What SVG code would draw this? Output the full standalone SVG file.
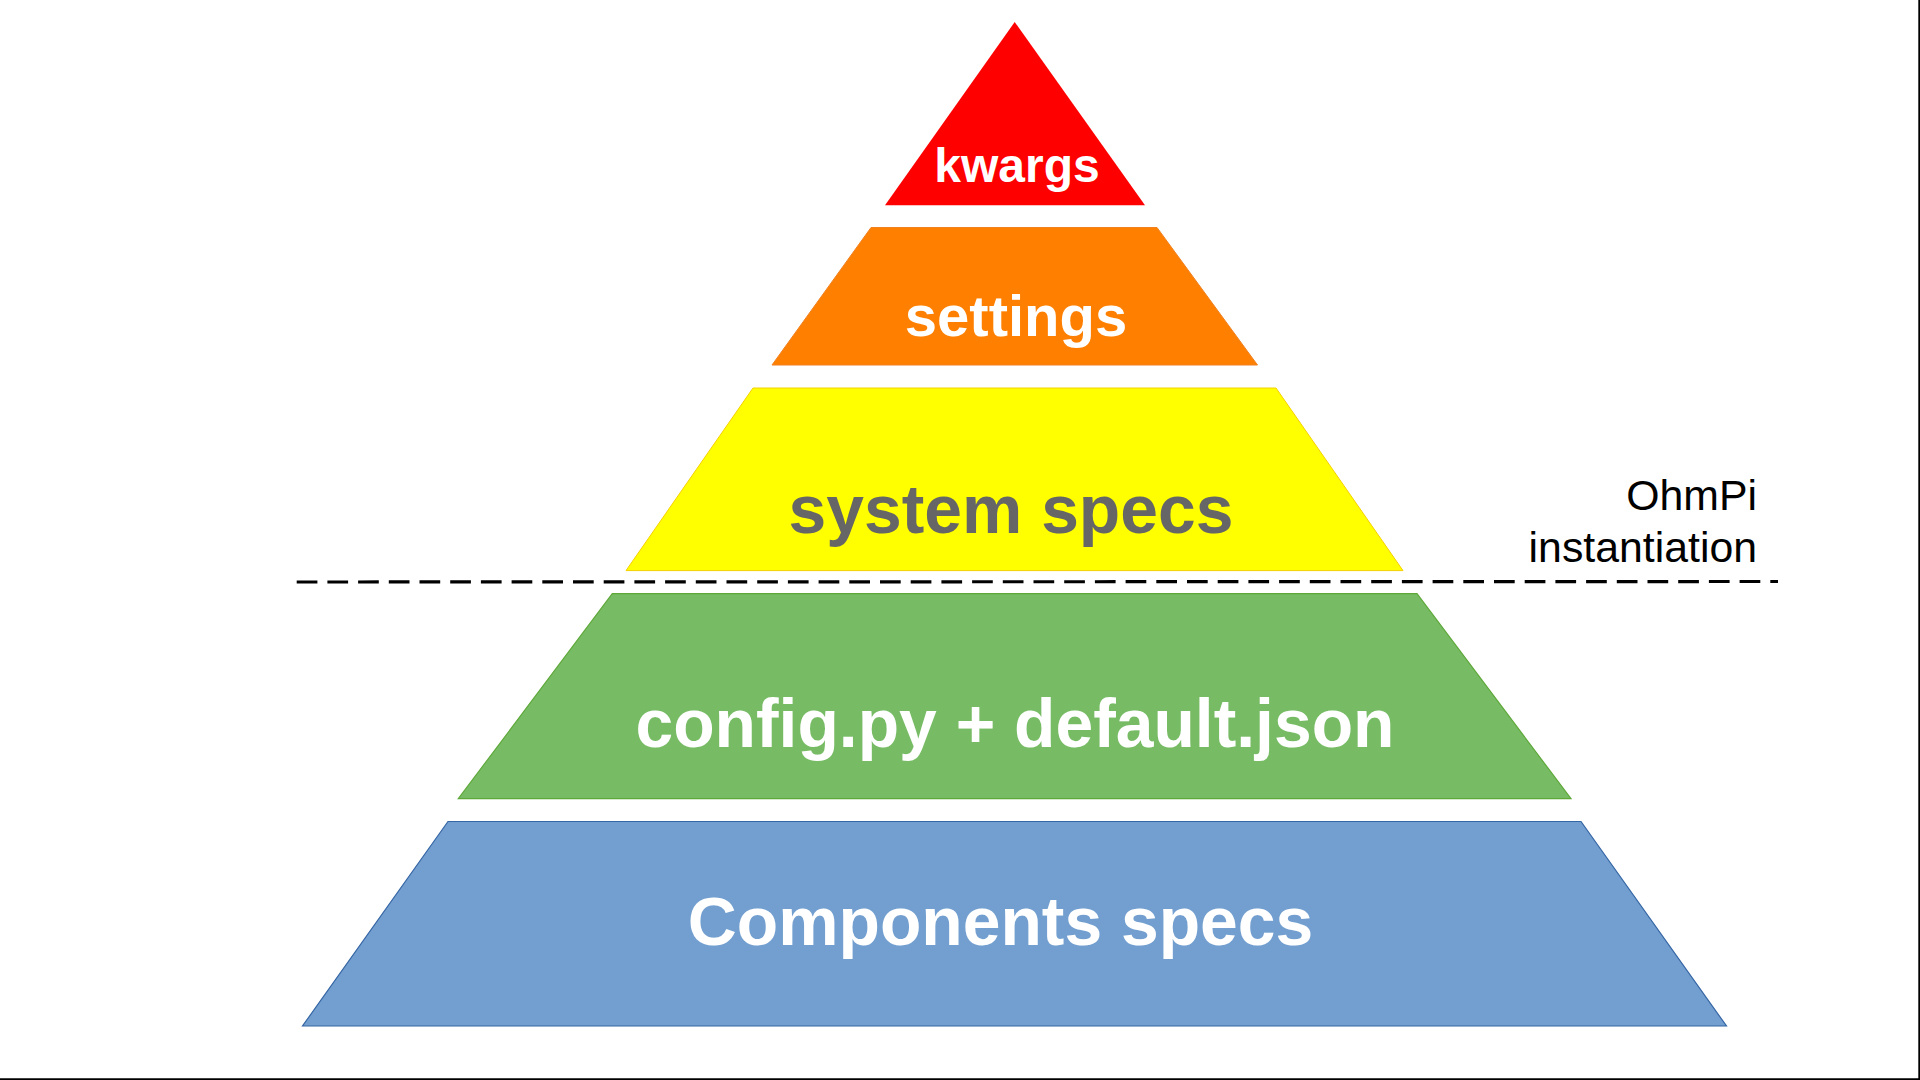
<svg xmlns="http://www.w3.org/2000/svg" width="1920" height="1080" viewBox="0 0 1920 1080">
<style>
.lbl{font-family:"Liberation Sans",Arial,sans-serif;font-weight:bold;text-anchor:middle}
.side{font-family:"Liberation Sans",Arial,sans-serif;font-size:42.8px;text-anchor:end;fill:#000}
</style>
<rect width="1920" height="1080" fill="#fff"/>
<g id="kwargs">
<polygon points="1014.7,22 1145,205.3 885,205.3" fill="#ff0000"/>
<text class="lbl" x="1017" y="181.5" font-size="48" fill="#fff">kwargs</text>
</g>
<g id="settings">
<polygon points="871,227.5 1157,227.5 1257.5,365 772,365" fill="#ff8000" stroke="#f08020" stroke-width="1"/>
<text class="lbl" x="1016" y="336" font-size="58" fill="#fff">settings</text>
</g>
<g id="system-specs">
<polygon points="753,388 1276,388 1403,570.6 626,570.6" fill="#ffff00" stroke="#f5d000" stroke-width="1"/>
<text class="lbl" x="1011" y="532.5" font-size="67.8" fill="#666666">system specs</text>
</g>
<g id="config">
<polygon points="612.3,593.7 1417,593.7 1571,798.7 458.3,798.7" fill="#77bc65" stroke="#5ea83a" stroke-width="1.2"/>
<text class="lbl" x="1015" y="746.5" font-size="67.8" fill="#fff">config.py + default.json</text>
</g>
<g id="components">
<polygon points="448,821.5 1581,821.5 1726.5,1026 302.5,1026" fill="#729fcf" stroke="#3465a4" stroke-width="1.2"/>
<text class="lbl" x="1000.5" y="944.5" font-size="67.8" fill="#fff">Components specs</text>
</g>
<g id="ohmpi-instantiation">
<text class="side" x="1757" y="510">OhmPi</text>
<text class="side" x="1757" y="561.5">instantiation</text>
</g>
<g id="connectors">
<line x1="296.7" y1="582" x2="1778" y2="581.5" stroke="#000" stroke-width="3.2" stroke-dasharray="20.7 10"/>
</g>
<g id="frame">
<line x1="1919.2" y1="0" x2="1919.2" y2="1080" stroke="#000" stroke-width="1.8"/>
<line x1="0" y1="1079.2" x2="1920" y2="1079.2" stroke="#000" stroke-width="1.8"/>
</g>
</svg>
